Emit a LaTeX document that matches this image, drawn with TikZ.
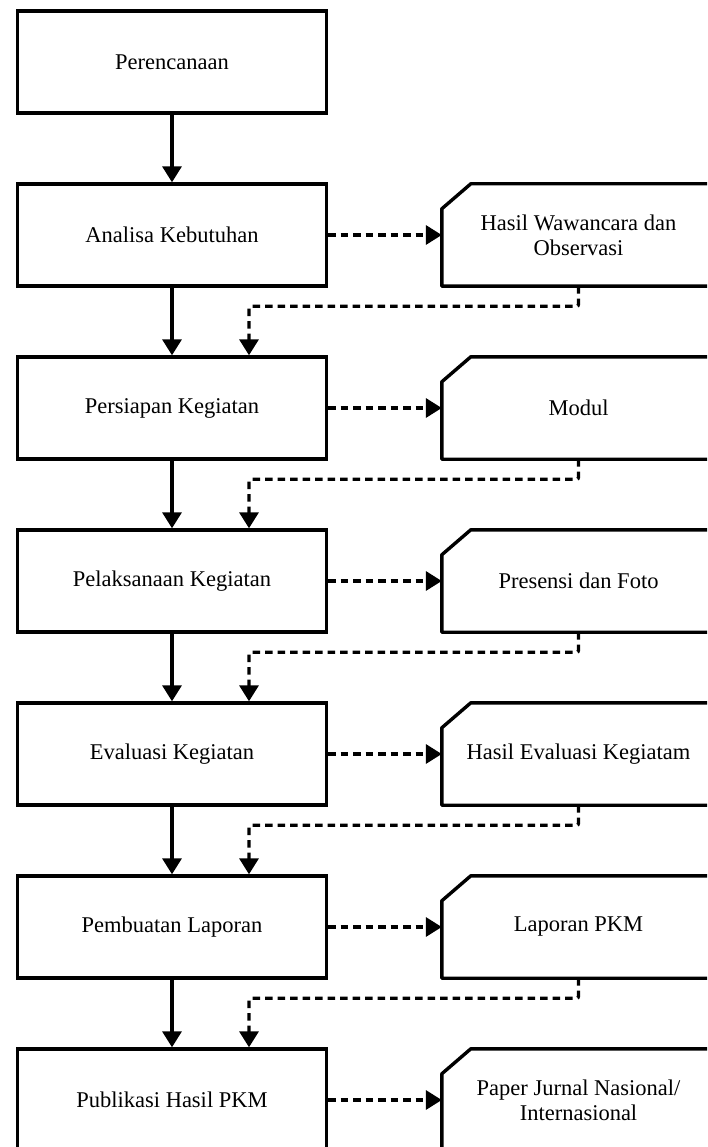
\documentclass[tikz,border=0pt]{standalone}
\usepackage{fontspec}
\setmainfont{Liberation Serif}
\usetikzlibrary{arrows.meta}
\begin{document}
\begin{tikzpicture}[x=1pt,y=-1pt,
  boxstyle/.style={draw, line width=3.4pt, minimum width=309pt, minimum height=102pt, inner sep=0pt, align=center, font=\fontsize{22.5}{25}\selectfont},
  cardtext/.style={minimum width=273pt, minimum height=102pt, inner sep=0pt, align=center, font=\fontsize{22.5}{25}\selectfont},
  cardline/.style={line width=3.4pt, line join=round},
  solidarrow/.style={line width=3.4pt, -{Triangle[width=19pt,length=16pt]}},
  dasharrow/.style={line width=3.4pt, dash pattern=on 7.5pt off 5pt, -{Triangle[width=19pt,length=16pt]}},
]
\useasboundingbox (0,0) rectangle (707,1147);
\clip (0,0) rectangle (707,1147);
% process boxes
\node[boxstyle] (b1) at (172,62) {Perencanaan};
\node[boxstyle] (b2) at (172,235) {Analisa Kebutuhan};
\node[boxstyle] (b3) at (172,408) {Persiapan Kegiatan};
\node[boxstyle] (b4) at (172,581) {Pelaksanaan Kegiatan};
\node[boxstyle] (b5) at (172,754) {Evaluasi Kegiatan};
\node[boxstyle] (b6) at (172,927) {Pembuatan Laporan};
\node[boxstyle] (b7) at (172,1100) {Publikasi Hasil PKM};
% output cards
\node[cardtext] (c2) at (578.5,235) {Hasil Wawancara dan\\Observasi};
\node[cardtext] (c3) at (578.5,408) {Modul};
\node[cardtext] (c4) at (578.5,581) {Presensi dan Foto};
\node[cardtext] (c5) at (578.5,754) {Hasil Evaluasi Kegiatam};
\node[cardtext] (c6) at (578.5,927) {Laporan PKM};
\node[cardtext] (c7) at (578.5,1100) {Paper Jurnal Nasional/\\Internasional};
\foreach \c in {c2,c3,c4,c5,c6,c7}{
  \draw[cardline] (\c.south east) -- (\c.south west) -- ([yshift=-25pt]\c.north west)
    -- ([xshift=29pt]\c.north west) -- (\c.north east);
}
% solid flow arrows
\foreach \i/\j in {1/2,2/3,3/4,4/5,5/6,6/7}{
  \draw[solidarrow] (b\i.south) -- (b\j.north);
}
% dashed arrows to outputs
\foreach \i in {2,3,4,5,6,7}{
  \draw[dasharrow] (b\i.east) -- (c\i.west);
}
% dashed returns
\foreach \i/\j in {2/3,3/4,4/5,5/6,6/7}{
  \draw[dasharrow, rounded corners=2pt] (c\i.south) -- ++(0,20) -| ([xshift=77pt]b\j.north);
}
\end{tikzpicture}
\end{document}
